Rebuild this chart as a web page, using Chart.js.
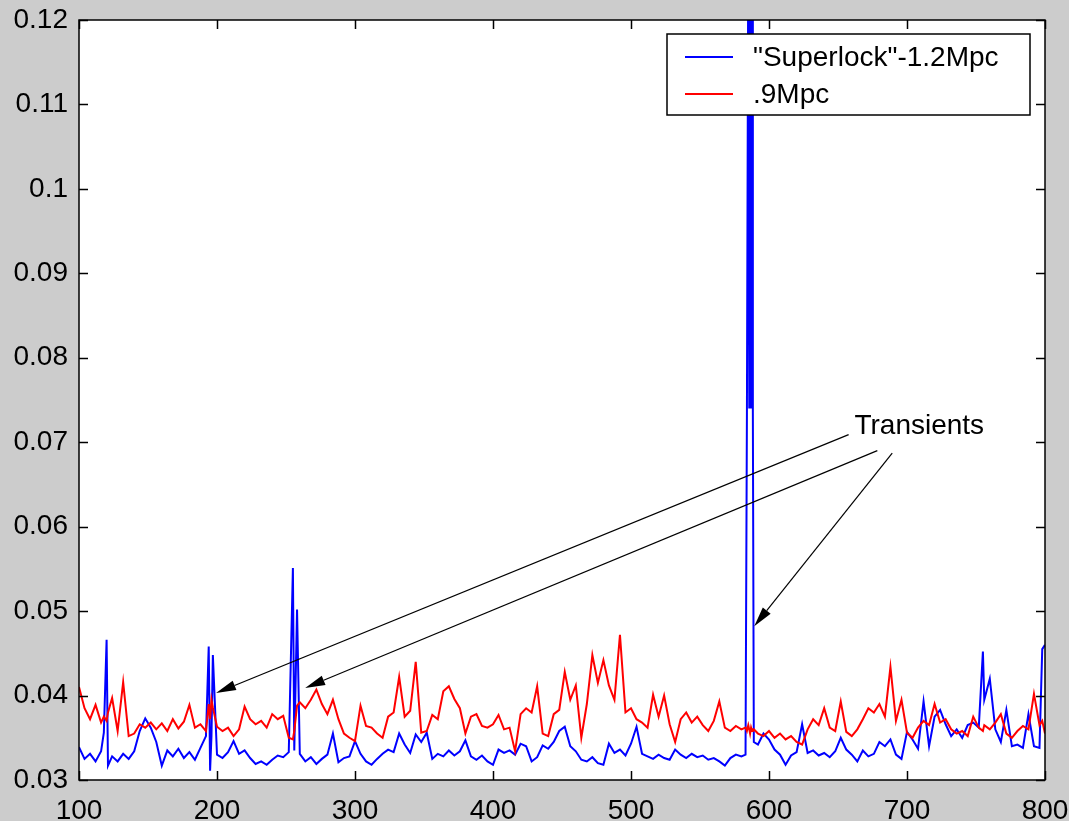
<!DOCTYPE html>
<html><head><meta charset="utf-8">
<script src="https://cdn.jsdelivr.net/npm/chart.js@4.4.1/dist/chart.umd.min.js"></script>
<style>html,body{margin:0;padding:0;background:#cccccc;}canvas{display:block;}</style>
</head><body>
<canvas id="c" width="1069" height="821"></canvas>
<script>
const xValues = [
100,104,108,112,116,118,120,121,124,128,
132,136,140,144,148,152,156,160,164,168,
172,176,180,184,188,192,194,195,196,197,
200,204,208,212,216,220,224,228,232,236,
240,244,248,252,255,256,258,260,264,268,
272,276,280,284,288,292,296,300,304,308,
312,316,320,324,328,332,336,340,344,348,
352,356,360,364,368,372,376,380,384,388,
392,396,400,404,408,412,416,420,424,428,
432,436,440,444,448,452,456,460,464,468,
472,476,480,484,488,492,496,500,504,508,
512,516,520,524,528,532,536,540,544,548,
552,556,560,564,568,572,576,580,583,584,
585,585.7,586.3,587,587.7,588.3,589,592,596,600,604,608,612,
616,620,624,628,632,636,640,644,648,652,
656,660,664,668,672,676,680,684,688,692,
696,700,704,708,712,716,720,724,728,732,
736,740,744,748,752,755,756,760,764,768,
772,776,780,784,788,792,796,798,800];

const superlockValues = [
0.0339,0.0325,0.0331,0.0322,0.0334,0.0356,0.0466,0.0317,0.0328,0.0322,
0.0331,0.0325,0.0334,0.0358,0.0373,0.0362,0.0345,0.0317,0.0335,0.0328,
0.0337,0.0326,0.0333,0.0324,0.0338,0.0352,0.0458,0.0311,0.0352,0.0448,
0.0330,0.0326,0.0333,0.0346,0.0331,0.0335,0.0326,0.0319,0.0322,0.0318,
0.0324,0.0329,0.0327,0.0333,0.0551,0.0335,0.0502,0.0331,0.0322,0.0327,
0.0319,0.0325,0.0330,0.0355,0.0321,0.0326,0.0328,0.0346,0.0331,0.0322,
0.0318,0.0325,0.0331,0.0336,0.0333,0.0355,0.0342,0.0332,0.0354,0.0345,
0.0356,0.0325,0.0331,0.0328,0.0335,0.0329,0.0334,0.0347,0.0328,0.0324,
0.0329,0.0322,0.0318,0.0336,0.0332,0.0335,0.0330,0.0343,0.0340,0.0322,
0.0327,0.0341,0.0337,0.0345,0.0358,0.0363,0.0340,0.0334,0.0324,0.0322,
0.0327,0.0320,0.0318,0.0343,0.0332,0.0336,0.0329,0.0343,0.0363,0.0331,
0.0328,0.0325,0.0330,0.0326,0.0324,0.0336,0.0330,0.0326,0.0331,0.0327,
0.0329,0.0324,0.0326,0.0322,0.0317,0.0326,0.0330,0.0328,0.0330,0.0735,
0.1300,0.0740,0.1300,0.0740,0.1300,0.0735,0.0345,0.0342,0.0355,0.0348,0.0336,0.0330,0.0318,
0.0329,0.0333,0.0366,0.0332,0.0335,0.0329,0.0332,0.0327,0.0334,0.0350,
0.0336,0.0330,0.0322,0.0335,0.0328,0.0331,0.0345,0.0340,0.0348,0.0330,
0.0325,0.0357,0.0348,0.0337,0.0393,0.0340,0.0375,0.0383,0.0366,0.0352,
0.0360,0.0350,0.0365,0.0368,0.0362,0.0452,0.0395,0.0420,0.0360,0.0345,
0.0383,0.0340,0.0342,0.0338,0.0378,0.0340,0.0338,0.0455,0.0460];

const mpc09Values = [
0.0410,0.0385,0.0372,0.0389,0.0368,0.0375,0.0370,0.0380,0.0397,0.0358,
0.0416,0.0352,0.0355,0.0366,0.0362,0.0368,0.0360,0.0367,0.0358,0.0372,
0.0361,0.0369,0.0389,0.0362,0.0366,0.0358,0.0390,0.0372,0.0395,0.0386,
0.0363,0.0358,0.0362,0.0352,0.0360,0.0387,0.0372,0.0366,0.0370,0.0362,
0.0378,0.0372,0.0376,0.0350,0.0348,0.0358,0.0388,0.0392,0.0385,0.0395,
0.0407,0.0390,0.0378,0.0395,0.0372,0.0355,0.0350,0.0346,0.0388,0.0364,
0.0362,0.0355,0.0350,0.0375,0.0380,0.0422,0.0375,0.0382,0.0440,0.0356,
0.0358,0.0377,0.0372,0.0405,0.0411,0.0396,0.0385,0.0355,0.0375,0.0378,
0.0364,0.0362,0.0366,0.0377,0.0360,0.0362,0.0334,0.0378,0.0385,0.0380,
0.0411,0.0355,0.0352,0.0378,0.0383,0.0428,0.0395,0.0412,0.0350,0.0390,
0.0448,0.0415,0.0442,0.0412,0.0395,0.0472,0.0380,0.0385,0.0372,0.0368,
0.0362,0.0401,0.0375,0.0400,0.0366,0.0345,0.0372,0.0380,0.0368,0.0375,
0.0365,0.0358,0.0370,0.0393,0.0362,0.0358,0.0364,0.0360,0.0362,0.0358,
0.0365,0.0360,0.0355,0.0362,0.0358,0.0360,0.0360,0.0355,0.0352,0.0358,0.0350,0.0355,0.0348,
0.0352,0.0345,0.0342,0.0360,0.0372,0.0365,0.0385,0.0362,0.0358,0.0393,
0.0357,0.0352,0.0360,0.0372,0.0385,0.0380,0.0390,0.0375,0.0434,0.0370,
0.0395,0.0356,0.0350,0.0362,0.0370,0.0365,0.0390,0.0368,0.0372,0.0360,
0.0355,0.0358,0.0352,0.0375,0.0362,0.0358,0.0365,0.0360,0.0368,0.0378,
0.0355,0.0350,0.0358,0.0364,0.0360,0.0402,0.0365,0.0370,0.0355];

const seriesLabels = ['"Superlock"-1.2Mpc', '.9Mpc'];
const xTickValues = [100, 200, 300, 400, 500, 600, 700, 800];
const xTickLabels = ['100', '200', '300', '400', '500', '600', '700', '800'];
const yTickValues = [0.03, 0.04, 0.05, 0.06, 0.07, 0.08, 0.09, 0.10, 0.11, 0.12];
const yTickLabels = ['0.03', '0.04', '0.05', '0.06', '0.07', '0.08', '0.09', '0.1', '0.11', '0.12'];
const annotationLabel = 'Transients';

const FONT = "'Liberation Sans', Arial, Helvetica, sans-serif";

const framePlugin = {
  id: 'frame',
  beforeDraw(chart) {
    const { ctx, chartArea: a } = chart;
    ctx.save();
    ctx.fillStyle = '#cccccc';
    ctx.fillRect(0, 0, chart.width, chart.height);
    ctx.fillStyle = '#ffffff';
    ctx.fillRect(a.left, a.top, a.right - a.left, a.bottom - a.top);
    ctx.restore();
  },
  afterDatasetsDraw(chart) {
    const { ctx, chartArea: a, scales } = chart;
    const tl = 9;
    ctx.save();
    ctx.strokeStyle = '#000';
    ctx.lineWidth = 1.5;
    ctx.beginPath();
    scales.x.ticks.forEach(t => {
      const px = Math.round(scales.x.getPixelForValue(t.value)) + 0.5;
      ctx.moveTo(px, a.bottom); ctx.lineTo(px, a.bottom - tl);
      ctx.moveTo(px, a.top); ctx.lineTo(px, a.top + tl);
    });
    scales.y.ticks.forEach(t => {
      const py = Math.round(scales.y.getPixelForValue(t.value)) + 0.5;
      ctx.moveTo(a.left, py); ctx.lineTo(a.left + tl, py);
      ctx.moveTo(a.right, py); ctx.lineTo(a.right - tl, py);
    });
    ctx.stroke();
    ctx.strokeRect(a.left, a.top, a.right - a.left, a.bottom - a.top);
    ctx.restore();
  }
};

const annotationPlugin = {
  id: 'transients',
  afterDatasetsDraw(chart, args, opts) {
    const { ctx, scales } = chart;
    const X = v => scales.x.getPixelForValue(v);
    const Y = v => scales.y.getPixelForValue(v);
    ctx.save();
    ctx.strokeStyle = '#000';
    ctx.fillStyle = '#000';
    ctx.lineWidth = 1.2;
    opts.arrows.forEach(ar => {
      const x0 = X(ar.from[0]), y0 = Y(ar.from[1]);
      const x1 = X(ar.to[0]), y1 = Y(ar.to[1]);
      const ang = Math.atan2(y1 - y0, x1 - x0);
      const L = opts.headLength, W = opts.headHalfWidth;
      const bx = x1 - L * Math.cos(ang), by = y1 - L * Math.sin(ang);
      ctx.beginPath();
      ctx.moveTo(x0, y0); ctx.lineTo(bx, by);
      ctx.stroke();
      ctx.beginPath();
      ctx.moveTo(x1, y1);
      ctx.lineTo(bx + W * Math.sin(ang), by - W * Math.cos(ang));
      ctx.lineTo(bx - W * Math.sin(ang), by + W * Math.cos(ang));
      ctx.closePath();
      ctx.fill();
    });
    ctx.font = opts.fontSize + 'px ' + FONT;
    ctx.textAlign = 'left';
    ctx.textBaseline = 'alphabetic';
    ctx.fillText(opts.text, X(opts.textAt[0]), Y(opts.textAt[1]));
    ctx.restore();
  }
};

const legendPlugin = {
  id: 'boxLegend',
  afterDraw(chart, args, opts) {
    const { ctx, chartArea: a } = chart;
    const right = a.right - opts.offsetRight, top = a.top + opts.offsetTop;
    const left = right - opts.width, h = opts.height;
    ctx.save();
    ctx.fillStyle = '#fff';
    ctx.fillRect(left, top, opts.width, h);
    ctx.strokeStyle = '#000';
    ctx.lineWidth = 1.5;
    ctx.strokeRect(left, top, opts.width, h);
    ctx.font = opts.fontSize + 'px ' + FONT;
    ctx.textBaseline = 'middle';
    ctx.textAlign = 'left';
    chart.data.datasets.forEach((ds, i) => {
      const y = top + opts.firstRow + i * opts.rowGap;
      ctx.strokeStyle = ds.borderColor;
      ctx.lineWidth = 1.8;
      ctx.beginPath();
      ctx.moveTo(left + opts.lineStart, y);
      ctx.lineTo(left + opts.lineEnd, y);
      ctx.stroke();
      ctx.fillStyle = '#000';
      ctx.fillText(ds.label, left + opts.textStart, y + 1);
    });
    ctx.restore();
  }
};

const mk = vals => xValues.map((x, i) => ({ x: x, y: vals[i] }));

new Chart(document.getElementById('c'), {
  type: 'line',
  data: {
    datasets: [
      { label: seriesLabels[0], data: mk(superlockValues), borderColor: '#0000ff', borderWidth: 2, pointRadius: 0, tension: 0, order: 1 },
      { label: seriesLabels[1], data: mk(mpc09Values), borderColor: '#ff0000', borderWidth: 2, pointRadius: 0, tension: 0, order: 0 }
    ]
  },
  options: {
    responsive: false,
    animation: false,
    devicePixelRatio: 1,
    layout: { padding: { left: 0, top: 20, right: 24, bottom: 0 } },
    plugins: {
      legend: { display: false },
      tooltip: { enabled: false },
      boxLegend: { offsetRight: 15, offsetTop: 14, width: 363, height: 81, firstRow: 23, rowGap: 37, lineStart: 18, lineEnd: 66, textStart: 86, fontSize: 28 },
      transients: {
        text: annotationLabel, textAt: [661.9, 0.0710], fontSize: 28,
        headLength: 20, headHalfWidth: 5,
        arrows: [
          { from: [657.7, 0.0709], to: [199.3, 0.0403] },
          { from: [678.5, 0.0690], to: [263.9, 0.0409] },
          { from: [689.3, 0.0687], to: [589.3, 0.0482] }
        ]
      }
    },
    scales: {
      x: {
        type: 'linear', min: 100, max: 800,
        afterFit(s) { s.height = 41; s.paddingLeft = 0; s.paddingRight = 0; },
        afterBuildTicks(s) { s.ticks = xTickValues.map(v => ({ value: v })); },
        grid: { display: false, drawTicks: false },
        border: { display: false },
        ticks: { autoSkip: false, maxRotation: 0, padding: 14, color: '#000', font: { size: 28, family: FONT }, callback: (v, i) => xTickLabels[i] }
      },
      y: {
        type: 'linear', min: 0.03, max: 0.12,
        afterFit(s) { s.width = 79; s.paddingTop = 0; s.paddingBottom = 0; },
        afterBuildTicks(s) { s.ticks = yTickValues.map(v => ({ value: v })); },
        grid: { display: false, drawTicks: false },
        border: { display: false },
        ticks: { padding: 11, color: '#000', font: { size: 28, family: FONT }, callback: (v, i) => yTickLabels[i] }
      }
    }
  },
  plugins: [framePlugin, annotationPlugin, legendPlugin]
});
</script>
</body></html>
